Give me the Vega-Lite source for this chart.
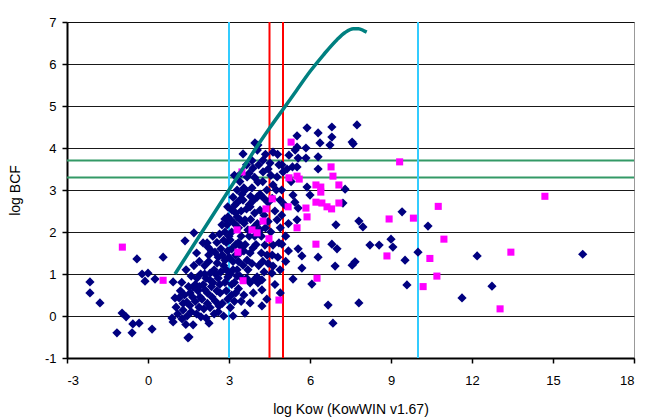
{
  "$schema": "https://vega.github.io/schema/vega-lite/v6.json",
  "width": 567,
  "height": 336,
  "autosize": {"type": "none"},
  "padding": {"left": 67, "top": 22, "right": 13, "bottom": 62},
  "background": "white",
  "config": {
    "view": {"stroke": "#999999", "strokeWidth": 1},
    "font": "Liberation Sans",
    "axis": {
      "labelFont": "Liberation Sans",
      "titleFont": "Liberation Sans",
      "labelFontSize": 13,
      "titleFontSize": 14,
      "titleFontWeight": "normal",
      "labelColor": "#000000",
      "titleColor": "#000000",
      "domainColor": "#000000",
      "domainWidth": 2,
      "tickColor": "#000000",
      "tickWidth": 1.5,
      "tickSize": 5,
      "labelExpr": "'' + datum.value"
    },
    "axisX": {"grid": false, "labelPadding": 11, "titlePadding": 15},
    "axisY": {"grid": true, "gridColor": "#000000", "gridWidth": 1, "gridOpacity": 0.9, "labelPadding": 6, "titleX": -52, "titleY": 168, "titleAnchor": "middle", "titleBaseline": "middle"}
  },
  "datasets": {
    "navy": [
      {"logKow": -2.15, "logBCF": 0.81}, {"logKow": -2.15, "logBCF": 0.55}, {"logKow": -1.78, "logBCF": 0.31},
      {"logKow": -0.96, "logBCF": 0.07}, {"logKow": -0.81, "logBCF": -0.02}, {"logKow": -0.56, "logBCF": -0.19},
      {"logKow": -0.33, "logBCF": -0.17}, {"logKow": -1.15, "logBCF": -0.4}, {"logKow": -0.59, "logBCF": -0.4},
      {"logKow": 0.15, "logBCF": -0.31}, {"logKow": -0.41, "logBCF": 1.36}, {"logKow": 0.56, "logBCF": 1.4},
      {"logKow": -0.22, "logBCF": 1.0}, {"logKow": 0.0, "logBCF": 1.02}, {"logKow": -0.11, "logBCF": 0.83},
      {"logKow": 0.26, "logBCF": 0.88}, {"logKow": 0.93, "logBCF": 0.81},
      {"logKow": 0.93, "logBCF": -0.14}, {"logKow": 0.89, "logBCF": -0.05}, {"logKow": 1.0, "logBCF": 0.43},
      {"logKow": 1.04, "logBCF": 0.21}, {"logKow": 1.3, "logBCF": 0.14}, {"logKow": 1.26, "logBCF": -0.07},
      {"logKow": 1.15, "logBCF": 0.43}, {"logKow": 1.44, "logBCF": 0.33}, {"logKow": 1.48, "logBCF": -0.52},
      {"logKow": 1.41, "logBCF": 1.1}, {"logKow": 1.37, "logBCF": 1.79}, {"logKow": 1.7, "logBCF": 1.98},
      {"logKow": 1.2, "logBCF": 0.6}, {"logKow": 1.1, "logBCF": 0.05}, {"logKow": 1.35, "logBCF": 0.5},
      {"logKow": 1.4, "logBCF": -0.2}, {"logKow": 1.25, "logBCF": 0.8}, {"logKow": 1.5, "logBCF": 0.7},
      {"logKow": 1.67, "logBCF": -0.21}, {"logKow": 1.52, "logBCF": -0.5}, {"logKow": 1.56, "logBCF": 0.55},
      {"logKow": 1.67, "logBCF": 0.69}, {"logKow": 1.81, "logBCF": 0.9}, {"logKow": 1.89, "logBCF": 0.21},
      {"logKow": 1.93, "logBCF": 0.45}, {"logKow": 1.96, "logBCF": -0.02}, {"logKow": 1.6, "logBCF": 0.1},
      {"logKow": 1.75, "logBCF": 0.35}, {"logKow": 1.85, "logBCF": 0.6}, {"logKow": 1.7, "logBCF": 1.2},
      {"logKow": 1.9, "logBCF": 1.3}, {"logKow": 1.8, "logBCF": 1.5}, {"logKow": 1.6, "logBCF": 0.95},
      {"logKow": 1.95, "logBCF": 1.0}, {"logKow": 1.55, "logBCF": 0.25}, {"logKow": 1.8, "logBCF": 0.05},
      {"logKow": 1.65, "logBCF": 0.45}, {"logKow": 1.75, "logBCF": 0.75}, {"logKow": 1.9, "logBCF": 0.7},
      {"logKow": 1.45, "logBCF": 0.0}, {"logKow": 1.3, "logBCF": 0.3},
      {"logKow": 2.07, "logBCF": 0.17}, {"logKow": 2.11, "logBCF": 0.62}, {"logKow": 2.26, "logBCF": -0.17},
      {"logKow": 2.3, "logBCF": 1.02}, {"logKow": 2.37, "logBCF": 0.45}, {"logKow": 2.04, "logBCF": 1.74},
      {"logKow": 2.22, "logBCF": 1.64}, {"logKow": 2.48, "logBCF": 1.52}, {"logKow": 2.19, "logBCF": 1.74},
      {"logKow": 2.0, "logBCF": 0.4}, {"logKow": 2.15, "logBCF": 0.9}, {"logKow": 2.25, "logBCF": 1.3},
      {"logKow": 2.4, "logBCF": 0.8}, {"logKow": 2.45, "logBCF": 1.1}, {"logKow": 2.1, "logBCF": 1.2},
      {"logKow": 2.3, "logBCF": 0.2}, {"logKow": 2.45, "logBCF": 0.05}, {"logKow": 2.2, "logBCF": 0.55},
      {"logKow": 2.35, "logBCF": 1.55}, {"logKow": 2.05, "logBCF": 0.75}, {"logKow": 2.4, "logBCF": 1.9},
      {"logKow": 2.15, "logBCF": -0.05}, {"logKow": 2.35, "logBCF": 0.7}, {"logKow": 2.2, "logBCF": 0.3},
      {"logKow": 2.3, "logBCF": 0.85}, {"logKow": 2.1, "logBCF": 1.0}, {"logKow": 2.25, "logBCF": 1.45},
      {"logKow": 2.63, "logBCF": 0.24}, {"logKow": 2.56, "logBCF": 1.26}, {"logKow": 2.67, "logBCF": 0.55},
      {"logKow": 2.85, "logBCF": 1.33}, {"logKow": 2.96, "logBCF": 0.93}, {"logKow": 2.74, "logBCF": 2.17},
      {"logKow": 2.85, "logBCF": 2.0}, {"logKow": 2.85, "logBCF": 2.31}, {"logKow": 2.93, "logBCF": 2.17},
      {"logKow": 2.96, "logBCF": 2.36}, {"logKow": 2.6, "logBCF": 0.9}, {"logKow": 2.7, "logBCF": 1.6},
      {"logKow": 2.8, "logBCF": 1.8}, {"logKow": 2.9, "logBCF": 1.1}, {"logKow": 2.55, "logBCF": 0.6},
      {"logKow": 2.75, "logBCF": 0.3}, {"logKow": 2.9, "logBCF": 0.6}, {"logKow": 2.65, "logBCF": 1.95},
      {"logKow": 2.95, "logBCF": 1.55}, {"logKow": 2.8, "logBCF": 0.0}, {"logKow": 2.6, "logBCF": 1.4},
      {"logKow": 2.7, "logBCF": 1.05}, {"logKow": 2.95, "logBCF": 2.6}, {"logKow": 2.85, "logBCF": 0.8},
      {"logKow": 2.55, "logBCF": 1.75}, {"logKow": 2.5, "logBCF": 0.35}, {"logKow": 2.65, "logBCF": 0.75},
      {"logKow": 2.8, "logBCF": 1.2}, {"logKow": 2.5, "logBCF": 1.0}, {"logKow": 2.75, "logBCF": 1.45},
      {"logKow": 2.9, "logBCF": 1.75}, {"logKow": 2.6, "logBCF": 0.1}, {"logKow": 2.95, "logBCF": 0.4},
      {"logKow": 3.04, "logBCF": 1.81}, {"logKow": 3.15, "logBCF": 2.83}, {"logKow": 3.22, "logBCF": 2.64},
      {"logKow": 3.11, "logBCF": 2.52}, {"logKow": 3.3, "logBCF": 2.36}, {"logKow": 3.4, "logBCF": 2.76},
      {"logKow": 3.48, "logBCF": 2.9}, {"logKow": 3.52, "logBCF": 3.86}, {"logKow": 3.05, "logBCF": 0.2},
      {"logKow": 3.1, "logBCF": 0.5}, {"logKow": 3.2, "logBCF": 0.8}, {"logKow": 3.3, "logBCF": 1.1},
      {"logKow": 3.15, "logBCF": 1.3}, {"logKow": 3.4, "logBCF": 1.5}, {"logKow": 3.25, "logBCF": 1.7},
      {"logKow": 3.1, "logBCF": 2.0}, {"logKow": 3.35, "logBCF": 2.1}, {"logKow": 3.45, "logBCF": 1.9},
      {"logKow": 3.2, "logBCF": 2.2}, {"logKow": 3.05, "logBCF": 1.0}, {"logKow": 3.35, "logBCF": 0.65},
      {"logKow": 3.45, "logBCF": 0.35}, {"logKow": 3.15, "logBCF": 0.0}, {"logKow": 3.3, "logBCF": 3.0},
      {"logKow": 3.4, "logBCF": 3.2}, {"logKow": 3.25, "logBCF": 1.45}, {"logKow": 3.45, "logBCF": 2.5},
      {"logKow": 3.1, "logBCF": 1.6}, {"logKow": 3.35, "logBCF": 1.3}, {"logKow": 3.2, "logBCF": 3.35},
      {"logKow": 3.45, "logBCF": 3.4}, {"logKow": 3.05, "logBCF": 2.3}, {"logKow": 3.3, "logBCF": 0.95},
      {"logKow": 3.0, "logBCF": 1.4}, {"logKow": 3.1, "logBCF": 0.75}, {"logKow": 3.2, "logBCF": 0.35},
      {"logKow": 3.35, "logBCF": 1.75}, {"logKow": 3.0, "logBCF": 1.9}, {"logKow": 3.25, "logBCF": 2.45},
      {"logKow": 3.4, "logBCF": 2.3}, {"logKow": 3.15, "logBCF": 1.1}, {"logKow": 3.4, "logBCF": 0.95},
      {"logKow": 3.25, "logBCF": 0.55}, {"logKow": 3.45, "logBCF": 1.65}, {"logKow": 3.3, "logBCF": 2.7},
      {"logKow": 3.52, "logBCF": 2.76}, {"logKow": 3.55, "logBCF": 3.05}, {"logKow": 3.59, "logBCF": 2.29},
      {"logKow": 3.67, "logBCF": 3.31}, {"logKow": 3.78, "logBCF": 2.6}, {"logKow": 3.85, "logBCF": 3.05},
      {"logKow": 3.89, "logBCF": 3.52}, {"logKow": 3.96, "logBCF": 4.12}, {"logKow": 3.78, "logBCF": 0.31},
      {"logKow": 3.59, "logBCF": 0.07}, {"logKow": 3.78, "logBCF": 0.79}, {"logKow": 3.7, "logBCF": 1.1},
      {"logKow": 3.52, "logBCF": 1.21}, {"logKow": 3.96, "logBCF": 0.88}, {"logKow": 3.89, "logBCF": 1.62},
      {"logKow": 3.78, "logBCF": 1.5}, {"logKow": 3.67, "logBCF": 1.33}, {"logKow": 3.56, "logBCF": 2.21},
      {"logKow": 3.6, "logBCF": 1.7}, {"logKow": 3.75, "logBCF": 1.9}, {"logKow": 3.9, "logBCF": 2.1},
      {"logKow": 3.65, "logBCF": 2.55}, {"logKow": 3.8, "logBCF": 2.3}, {"logKow": 3.95, "logBCF": 2.45},
      {"logKow": 3.55, "logBCF": 0.5}, {"logKow": 3.85, "logBCF": 1.25}, {"logKow": 3.95, "logBCF": 1.9},
      {"logKow": 3.7, "logBCF": 2.05}, {"logKow": 3.6, "logBCF": 3.0}, {"logKow": 3.75, "logBCF": 3.4},
      {"logKow": 3.95, "logBCF": 3.3}, {"logKow": 3.8, "logBCF": 2.85}, {"logKow": 3.55, "logBCF": 1.55},
      {"logKow": 3.9, "logBCF": 0.55}, {"logKow": 3.65, "logBCF": 3.6}, {"logKow": 3.85, "logBCF": 3.7},
      {"logKow": 3.65, "logBCF": 0.9}, {"logKow": 3.75, "logBCF": 2.65}, {"logKow": 3.9, "logBCF": 2.75},
      {"logKow": 4.04, "logBCF": 2.83}, {"logKow": 4.07, "logBCF": 3.19}, {"logKow": 4.15, "logBCF": 2.52},
      {"logKow": 4.26, "logBCF": 3.43}, {"logKow": 4.26, "logBCF": 3.71}, {"logKow": 4.07, "logBCF": 4.07},
      {"logKow": 4.22, "logBCF": 0.24}, {"logKow": 4.22, "logBCF": 0.62}, {"logKow": 4.07, "logBCF": 0.79},
      {"logKow": 4.04, "logBCF": 0.93}, {"logKow": 4.22, "logBCF": 0.86}, {"logKow": 4.33, "logBCF": 1.69},
      {"logKow": 4.41, "logBCF": 1.45}, {"logKow": 4.1, "logBCF": 1.2}, {"logKow": 4.3, "logBCF": 1.05},
      {"logKow": 4.45, "logBCF": 1.25}, {"logKow": 4.2, "logBCF": 1.9}, {"logKow": 4.35, "logBCF": 2.1},
      {"logKow": 4.05, "logBCF": 2.2}, {"logKow": 4.3, "logBCF": 2.4}, {"logKow": 4.45, "logBCF": 2.7},
      {"logKow": 4.15, "logBCF": 2.9}, {"logKow": 4.4, "logBCF": 3.0}, {"logKow": 4.25, "logBCF": 3.2},
      {"logKow": 4.45, "logBCF": 3.5}, {"logKow": 4.1, "logBCF": 3.6}, {"logKow": 4.35, "logBCF": 3.85},
      {"logKow": 4.2, "logBCF": 1.5}, {"logKow": 4.0, "logBCF": 1.7}, {"logKow": 4.4, "logBCF": 0.4},
      {"logKow": 4.05, "logBCF": 3.95}, {"logKow": 4.15, "logBCF": 2.05}, {"logKow": 4.3, "logBCF": 2.8},
      {"logKow": 4.45, "logBCF": 2.25}, {"logKow": 4.25, "logBCF": 1.3},
      {"logKow": 4.52, "logBCF": 3.64}, {"logKow": 4.63, "logBCF": 3.9}, {"logKow": 4.96, "logBCF": 3.6},
      {"logKow": 5.0, "logBCF": 3.43}, {"logKow": 4.78, "logBCF": 3.31}, {"logKow": 4.63, "logBCF": 3.12},
      {"logKow": 4.89, "logBCF": 2.76}, {"logKow": 4.63, "logBCF": 1.19}, {"logKow": 4.89, "logBCF": 1.1},
      {"logKow": 4.59, "logBCF": 1.02}, {"logKow": 4.85, "logBCF": 1.74}, {"logKow": 4.96, "logBCF": 1.71},
      {"logKow": 4.81, "logBCF": 1.4}, {"logKow": 4.63, "logBCF": 1.69}, {"logKow": 4.78, "logBCF": 2.29},
      {"logKow": 4.55, "logBCF": 2.0}, {"logKow": 4.7, "logBCF": 2.5}, {"logKow": 4.9, "logBCF": 2.1},
      {"logKow": 4.6, "logBCF": 2.8}, {"logKow": 4.75, "logBCF": 3.0}, {"logKow": 4.95, "logBCF": 3.0},
      {"logKow": 4.55, "logBCF": 3.35}, {"logKow": 4.85, "logBCF": 3.6}, {"logKow": 4.7, "logBCF": 0.75},
      {"logKow": 4.9, "logBCF": 0.55}, {"logKow": 4.6, "logBCF": 1.45}, {"logKow": 4.95, "logBCF": 2.4},
      {"logKow": 4.8, "logBCF": 3.85},
      {"logKow": 5.22, "logBCF": 3.83}, {"logKow": 5.37, "logBCF": 2.88}, {"logKow": 5.44, "logBCF": 2.71},
      {"logKow": 5.37, "logBCF": 0.88}, {"logKow": 5.1, "logBCF": 1.9}, {"logKow": 5.2, "logBCF": 2.2},
      {"logKow": 5.3, "logBCF": 3.2}, {"logKow": 5.15, "logBCF": 3.5}, {"logKow": 5.45, "logBCF": 3.95},
      {"logKow": 5.1, "logBCF": 1.3}, {"logKow": 5.05, "logBCF": 2.65}, {"logKow": 5.35, "logBCF": 3.55},
      {"logKow": 5.2, "logBCF": 1.55},
      {"logKow": 5.52, "logBCF": 4.29}, {"logKow": 5.89, "logBCF": 4.48}, {"logKow": 5.85, "logBCF": 4.0},
      {"logKow": 5.52, "logBCF": 4.02}, {"logKow": 5.56, "logBCF": 3.76}, {"logKow": 5.85, "logBCF": 3.76},
      {"logKow": 5.52, "logBCF": 3.55}, {"logKow": 5.89, "logBCF": 3.07}, {"logKow": 5.56, "logBCF": 2.57},
      {"logKow": 5.52, "logBCF": 2.29}, {"logKow": 5.56, "logBCF": 1.6}, {"logKow": 5.7, "logBCF": 1.43},
      {"logKow": 5.7, "logBCF": 1.14},
      {"logKow": 6.3, "logBCF": 4.36}, {"logKow": 6.81, "logBCF": 4.5}, {"logKow": 6.81, "logBCF": 4.26},
      {"logKow": 6.74, "logBCF": 4.07}, {"logKow": 6.37, "logBCF": 4.12}, {"logKow": 6.3, "logBCF": 3.5},
      {"logKow": 6.3, "logBCF": 3.79}, {"logKow": 6.0, "logBCF": 2.88}, {"logKow": 6.3, "logBCF": 1.4},
      {"logKow": 6.07, "logBCF": 0.76}, {"logKow": 6.67, "logBCF": 0.26}, {"logKow": 6.85, "logBCF": -0.17},
      {"logKow": 6.81, "logBCF": 1.71}, {"logKow": 7.0, "logBCF": 1.6}, {"logKow": 6.93, "logBCF": 1.19},
      {"logKow": 6.96, "logBCF": 2.17},
      {"logKow": 7.74, "logBCF": 4.55}, {"logKow": 7.56, "logBCF": 4.14}, {"logKow": 7.6, "logBCF": 4.1},
      {"logKow": 7.3, "logBCF": 3.02}, {"logKow": 7.22, "logBCF": 2.69}, {"logKow": 7.81, "logBCF": 2.26},
      {"logKow": 7.96, "logBCF": 2.12}, {"logKow": 7.67, "logBCF": 1.29}, {"logKow": 7.56, "logBCF": 1.21},
      {"logKow": 7.81, "logBCF": 0.31},
      {"logKow": 8.22, "logBCF": 1.69}, {"logKow": 8.56, "logBCF": 1.69}, {"logKow": 9.0, "logBCF": 1.83},
      {"logKow": 9.07, "logBCF": 1.64}, {"logKow": 9.41, "logBCF": 2.48}, {"logKow": 10.37, "logBCF": 2.14},
      {"logKow": 9.52, "logBCF": 1.33}, {"logKow": 10.0, "logBCF": 1.52}, {"logKow": 9.59, "logBCF": 0.74},
      {"logKow": 12.19, "logBCF": 1.43}, {"logKow": 16.1, "logBCF": 1.47}, {"logKow": 12.74, "logBCF": 0.71},
      {"logKow": 11.63, "logBCF": 0.43}
    ],
    "magenta": [
      {"logKow": -0.95, "logBCF": 1.64}, {"logKow": 0.56, "logBCF": 0.85}, {"logKow": 3.3, "logBCF": 2.05},
      {"logKow": 3.33, "logBCF": 1.52}, {"logKow": 3.52, "logBCF": 0.84}, {"logKow": 3.48, "logBCF": 3.43},
      {"logKow": 3.85, "logBCF": 2.05}, {"logKow": 4.04, "logBCF": 1.98}, {"logKow": 5.3, "logBCF": 4.14},
      {"logKow": 5.22, "logBCF": 3.29}, {"logKow": 5.52, "logBCF": 3.33}, {"logKow": 5.6, "logBCF": 3.26},
      {"logKow": 6.78, "logBCF": 3.55}, {"logKow": 6.85, "logBCF": 3.33}, {"logKow": 6.22, "logBCF": 3.12},
      {"logKow": 6.4, "logBCF": 3.07}, {"logKow": 6.4, "logBCF": 2.95}, {"logKow": 7.07, "logBCF": 3.12},
      {"logKow": 4.6, "logBCF": 2.79}, {"logKow": 4.37, "logBCF": 2.55}, {"logKow": 5.19, "logBCF": 2.6},
      {"logKow": 6.22, "logBCF": 2.71}, {"logKow": 6.44, "logBCF": 2.69}, {"logKow": 6.63, "logBCF": 2.6},
      {"logKow": 6.8, "logBCF": 2.55}, {"logKow": 7.07, "logBCF": 2.69}, {"logKow": 5.85, "logBCF": 2.57},
      {"logKow": 5.89, "logBCF": 2.36}, {"logKow": 4.26, "logBCF": 2.26}, {"logKow": 5.52, "logBCF": 2.1},
      {"logKow": 4.48, "logBCF": 1.84}, {"logKow": 6.22, "logBCF": 1.71}, {"logKow": 8.93, "logBCF": 2.31},
      {"logKow": 9.83, "logBCF": 2.33}, {"logKow": 9.32, "logBCF": 3.67}, {"logKow": 10.75, "logBCF": 2.61},
      {"logKow": 14.7, "logBCF": 2.85}, {"logKow": 10.96, "logBCF": 1.83}, {"logKow": 13.44, "logBCF": 1.52},
      {"logKow": 8.85, "logBCF": 1.43}, {"logKow": 10.44, "logBCF": 1.37}, {"logKow": 10.7, "logBCF": 0.95},
      {"logKow": 10.19, "logBCF": 0.7}, {"logKow": 13.04, "logBCF": 0.17}, {"logKow": 6.26, "logBCF": 0.9},
      {"logKow": 4.85, "logBCF": 0.38}
    ],
    "curve": [
      {"logKow": 1.0, "logBCF": 1.0}, {"logKow": 1.5, "logBCF": 1.5}, {"logKow": 2.0, "logBCF": 2.0},
      {"logKow": 2.5, "logBCF": 2.5}, {"logKow": 3.0, "logBCF": 3.0}, {"logKow": 3.5, "logBCF": 3.5},
      {"logKow": 4.0, "logBCF": 4.0}, {"logKow": 4.5, "logBCF": 4.47}, {"logKow": 5.0, "logBCF": 4.92},
      {"logKow": 5.5, "logBCF": 5.37}, {"logKow": 6.0, "logBCF": 5.82}, {"logKow": 6.5, "logBCF": 6.22},
      {"logKow": 7.0, "logBCF": 6.58}, {"logKow": 7.3, "logBCF": 6.75}, {"logKow": 7.6, "logBCF": 6.84},
      {"logKow": 7.8, "logBCF": 6.84}, {"logKow": 8.0, "logBCF": 6.79}, {"logKow": 8.1, "logBCF": 6.76}
    ]
  },
  "layer": [
    {
      "data": {"values": [{"logBCF": 3.3}, {"logBCF": 3.7}]},
      "mark": {"type": "rule", "color": "#339966", "strokeWidth": 2},
      "encoding": {
        "y": {"field": "logBCF", "type": "quantitative", "scale": {"domain": [-1, 7], "nice": false, "zero": false}, "axis": {"values": [-1, 0, 1, 2, 3, 4, 5, 6, 7], "title": "log BCF"}}
      }
    },
    {
      "data": {"values": [{"logKow": 3}, {"logKow": 10}]},
      "mark": {"type": "rule", "color": "#33CCFF", "strokeWidth": 2},
      "encoding": {
        "x": {"field": "logKow", "type": "quantitative", "scale": {"domain": [-3, 18], "nice": false, "zero": false}, "axis": {"values": [-3, 0, 3, 6, 9, 12, 15, 18], "title": "log Kow (KowWIN v1.67)"}}
      }
    },
    {
      "data": {"values": [{"logKow": 4.5}, {"logKow": 5}]},
      "mark": {"type": "rule", "color": "#FF0000", "strokeWidth": 2},
      "encoding": {
        "x": {"field": "logKow", "type": "quantitative", "axis": {"values": [-3, 0, 3, 6, 9, 12, 15, 18], "title": "log Kow (KowWIN v1.67)"}}
      }
    },
    {
      "data": {"name": "navy"},
      "mark": {"type": "point", "shape": "diamond", "filled": true, "color": "#000080", "opacity": 1, "size": 85},
      "encoding": {
        "x": {"field": "logKow", "type": "quantitative", "axis": {"values": [-3, 0, 3, 6, 9, 12, 15, 18], "title": "log Kow (KowWIN v1.67)"}},
        "y": {"field": "logBCF", "type": "quantitative", "axis": {"values": [-1, 0, 1, 2, 3, 4, 5, 6, 7], "title": "log BCF"}}
      }
    },
    {
      "data": {"name": "magenta"},
      "mark": {"type": "point", "shape": "square", "filled": true, "color": "#FF00FF", "opacity": 1, "size": 50},
      "encoding": {
        "x": {"field": "logKow", "type": "quantitative", "axis": {"values": [-3, 0, 3, 6, 9, 12, 15, 18], "title": "log Kow (KowWIN v1.67)"}},
        "y": {"field": "logBCF", "type": "quantitative", "axis": {"values": [-1, 0, 1, 2, 3, 4, 5, 6, 7], "title": "log BCF"}}
      }
    },
    {
      "data": {"name": "curve"},
      "mark": {"type": "line", "color": "#008080", "strokeWidth": 3.5, "interpolate": "monotone"},
      "encoding": {
        "x": {"field": "logKow", "type": "quantitative", "axis": {"values": [-3, 0, 3, 6, 9, 12, 15, 18], "title": "log Kow (KowWIN v1.67)"}},
        "y": {"field": "logBCF", "type": "quantitative", "axis": {"values": [-1, 0, 1, 2, 3, 4, 5, 6, 7], "title": "log BCF"}}
      }
    }
  ]
}
